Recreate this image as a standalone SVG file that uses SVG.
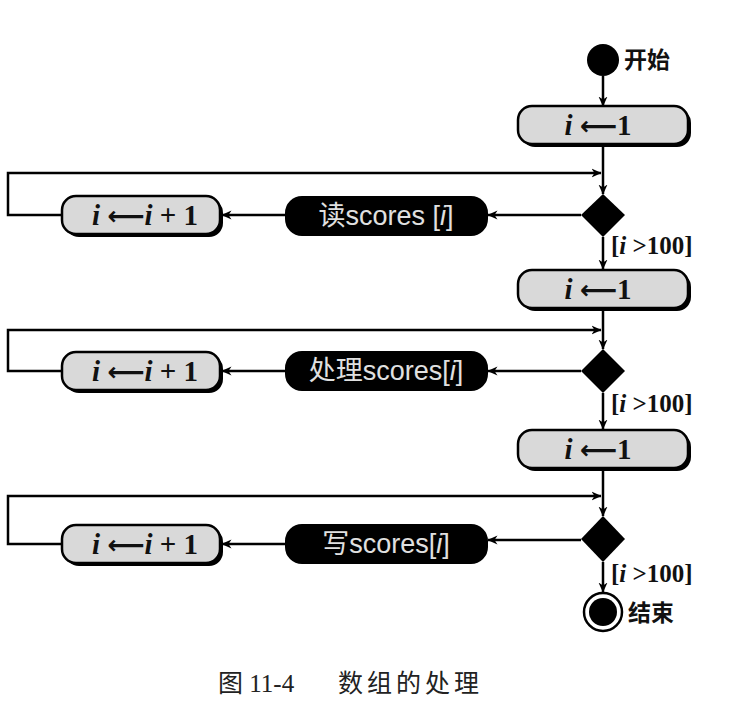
<svg xmlns="http://www.w3.org/2000/svg" width="740" height="720" viewBox="0 0 740 720">
<defs>
<marker id="ah" viewBox="0 0 10 10" refX="9.5" refY="5" markerWidth="10" markerHeight="10" markerUnits="userSpaceOnUse" orient="auto">
<path d="M0,0.5 L10,5 L0,9.5 L3,5 z" fill="#000"/>
</marker>
</defs>
<style>
.arr{fill:none;stroke:#000;stroke-width:2.5;marker-end:url(#ah)}
.gbox{fill:#d9d9d9;stroke:#000;stroke-width:2.5}
.shadow{fill:#000}
.bbox{fill:#000;stroke:#000;stroke-width:2}
.math{font-family:"Liberation Serif","DejaVu Serif",serif;font-size:29px;font-weight:bold;fill:#111}
.ar{font-family:"DejaVu Sans",sans-serif;font-weight:bold;font-size:26px}
.wt{font-family:"Liberation Sans","Noto Sans CJK SC",sans-serif;font-size:27px;fill:#e0e0e0}
.lbl{font-family:"Noto Sans CJK SC",sans-serif;font-size:23px;font-weight:bold;fill:#111}
.grd{font-family:"Liberation Serif",serif;font-size:25px;font-weight:bold;fill:#111}
.cap{font-family:"Liberation Serif","Noto Sans CJK SC",serif;font-size:25px;fill:#222}
</style>

<g id="connectors">
<line class="arr" x1="603" y1="76" x2="603" y2="106"/>
<line class="arr" x1="603" y1="145" x2="603" y2="194"/>
<polyline class="arr" points="62,215 8,215 8,173 601,173"/>
<line class="arr" x1="581" y1="215" x2="488" y2="215"/>
<line class="arr" x1="286" y1="215" x2="222" y2="215"/>
<line class="arr" x1="603" y1="237" x2="603" y2="269"/>

<line class="arr" x1="603" y1="309" x2="603" y2="349"/>
<polyline class="arr" points="62,371 8,371 8,330 601,330"/>
<line class="arr" x1="581" y1="371" x2="488" y2="371"/>
<line class="arr" x1="286" y1="371" x2="222" y2="371"/>
<line class="arr" x1="603" y1="393" x2="603" y2="429"/>

<line class="arr" x1="603" y1="468" x2="603" y2="516"/>
<polyline class="arr" points="62,544 8,544 8,496 601,496"/>
<line class="arr" x1="581" y1="540" x2="488" y2="540"/>
<line class="arr" x1="286" y1="544" x2="222" y2="544"/>
<line class="arr" x1="603" y1="562" x2="603" y2="592"/>
</g>

<g id="start">
<circle cx="603" cy="60" r="16" fill="#000"/>
<text class="lbl" x="624" y="68">开始</text>
</g>

<g id="init1">
<rect class="shadow" x="521" y="109" width="170" height="38" rx="14"/>
<rect class="gbox" x="518" y="106" width="170" height="38" rx="14"/>
<text class="math" x="598" y="135" text-anchor="middle"><tspan font-style="italic">i</tspan> <tspan class="ar">⟵</tspan>1</text>
</g>

<g id="dec1">
<polygon points="603,194 625,215 603,237 581,215" fill="#000"/>
<text class="grd" x="611" y="254">[<tspan font-style="italic">i</tspan> &gt;100]</text>
</g>

<g id="read">
<rect class="bbox" x="286" y="197" width="201" height="38" rx="16"/>
<text class="wt" x="386" y="225" text-anchor="middle">读scores [<tspan font-style="italic">i</tspan>]</text>
</g>

<g id="inc1">
<rect class="shadow" x="65" y="199" width="158" height="38" rx="14"/>
<rect class="gbox" x="62" y="196" width="158" height="38" rx="14"/>
<text class="math" x="145" y="225" text-anchor="middle"><tspan font-style="italic">i</tspan> <tspan class="ar">⟵</tspan><tspan font-style="italic">i</tspan> + 1</text>
</g>

<g id="init2">
<rect class="shadow" x="521" y="273" width="170" height="38" rx="14"/>
<rect class="gbox" x="518" y="270" width="170" height="38" rx="14"/>
<text class="math" x="598" y="299" text-anchor="middle"><tspan font-style="italic">i</tspan> <tspan class="ar">⟵</tspan>1</text>
</g>

<g id="dec2">
<polygon points="603,349 625,371 603,393 581,371" fill="#000"/>
<text class="grd" x="611" y="412">[<tspan font-style="italic">i</tspan> &gt;100]</text>
</g>

<g id="process">
<rect class="bbox" x="286" y="352" width="201" height="38" rx="16"/>
<text class="wt" x="386" y="380" text-anchor="middle">处理scores[<tspan font-style="italic">i</tspan>]</text>
</g>

<g id="inc2">
<rect class="shadow" x="65" y="355" width="158" height="38" rx="14"/>
<rect class="gbox" x="62" y="352" width="158" height="38" rx="14"/>
<text class="math" x="145" y="381" text-anchor="middle"><tspan font-style="italic">i</tspan> <tspan class="ar">⟵</tspan><tspan font-style="italic">i</tspan> + 1</text>
</g>

<g id="init3">
<rect class="shadow" x="521" y="433" width="170" height="38" rx="14"/>
<rect class="gbox" x="518" y="430" width="170" height="38" rx="14"/>
<text class="math" x="598" y="459" text-anchor="middle"><tspan font-style="italic">i</tspan> <tspan class="ar">⟵</tspan>1</text>
</g>

<g id="dec3">
<polygon points="603,516 625,539 603,562 581,539" fill="#000"/>
<text class="grd" x="611" y="582">[<tspan font-style="italic">i</tspan> &gt;100]</text>
</g>

<g id="write">
<rect class="bbox" x="286" y="525" width="201" height="38" rx="16"/>
<text class="wt" x="386" y="553" text-anchor="middle">写scores[<tspan font-style="italic">i</tspan>]</text>
</g>

<g id="inc3">
<rect class="shadow" x="65" y="528" width="158" height="38" rx="14"/>
<rect class="gbox" x="62" y="525" width="158" height="38" rx="14"/>
<text class="math" x="145" y="554" text-anchor="middle"><tspan font-style="italic">i</tspan> <tspan class="ar">⟵</tspan><tspan font-style="italic">i</tspan> + 1</text>
</g>

<g id="end">
<circle cx="603" cy="612" r="19" fill="#fff" stroke="#000" stroke-width="2.5"/>
<circle cx="603" cy="612" r="14" fill="#000"/>
<text class="lbl" x="628" y="621">结束</text>
</g>

<g id="caption">
<text class="cap" x="218" y="692">图 11-4<tspan x="338" letter-spacing="4">数组的处理</tspan></text>
</g>
</svg>
